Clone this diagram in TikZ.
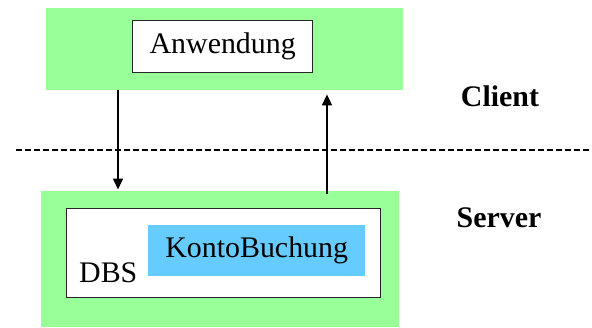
\documentclass[tikz,border=0pt]{standalone}
\usepackage{fontspec}
\setmainfont{Liberation Serif}
\usetikzlibrary{arrows.meta}
\definecolor{lgreen}{HTML}{99FF99}
\definecolor{lblue}{HTML}{66CCFF}
\begin{document}
\begin{tikzpicture}[x=1bp,y=-1bp,
  greenbox/.style={fill=lgreen,draw=none,inner sep=0pt,anchor=north west},
  whitebox/.style={fill=white,draw=black!85,line width=1.4bp,inner sep=0pt,anchor=north west},
  bluebox/.style={fill=lblue,draw=none,inner sep=0pt,anchor=north west},
  lbl/.style={font=\fontsize{30}{36}\selectfont,inner sep=0pt},
  arr/.style={line width=1.6bp,-{Triangle[length=11bp,width=10bp]}}]
\useasboundingbox (0,0) rectangle (592,327);
% client
\node[greenbox,minimum width=357bp,minimum height=82bp] (client) at (46,8) {};
\node[whitebox,minimum width=180bp,minimum height=52bp] (anwbox) at (132,20) {};
\node[lbl] (anw) at (anwbox.center) {Anwendung};
% server
\node[greenbox,minimum width=358bp,minimum height=136bp] (server) at (41,191) {};
\node[whitebox,minimum width=314bp,minimum height=89bp] (dbs) at (66,208) {};
\node[bluebox,minimum width=217bp,minimum height=51bp] (kb) at (148,225) {};
\node[lbl] (kbt) at (kb.center) {KontoBuchung};
\node[lbl,anchor=base west] (dbst) at (79,282) {DBS};
% labels
\node[lbl,anchor=base,font=\fontsize{30}{36}\selectfont\bfseries] (cl) at (500,106) {Client};
\node[lbl,anchor=base,font=\fontsize{30}{36}\selectfont\bfseries] (sv) at (499,227) {Server};
% dashed separator
\coordinate (dl) at (16,150);
\coordinate (dr) at (592,150);
\draw[line width=1.2bp,dash pattern=on 5.5bp off 3.5bp] (dl) -- (dr);
% arrows
\coordinate (dx) at (118,0);
\coordinate (ux) at (327,0);
\draw[arr] (client.south -| dx) -- ([yshift=1.5bp]server.north -| dx);
\draw[arr] ([yshift=-3bp]server.north -| ux) -- ([yshift=-4bp]client.south -| ux);
\end{tikzpicture}
\end{document}
